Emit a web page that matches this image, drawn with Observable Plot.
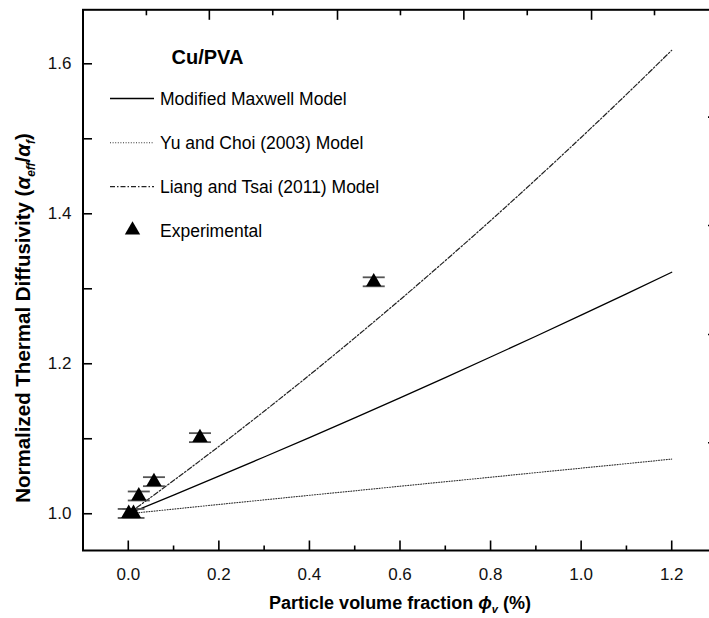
<!DOCTYPE html>
<html>
<head>
<meta charset="utf-8">
<script src="https://cdn.jsdelivr.net/npm/d3@7"></script>
<script src="https://cdn.jsdelivr.net/npm/@observablehq/plot@0.6"></script>
<style>
html, body { margin: 0; padding: 0; background: #fff; }
svg { display: block; }
</style>
</head>
<body>
<div id="chart"></div>
<script>
// ---- Data ----
const xCurve    = [0, 0.1, 0.2, 0.3, 0.4, 0.5, 0.6, 0.7, 0.8, 0.9, 1.0, 1.1, 1.2];
const maxwell   = [1.000, 1.0249, 1.0501, 1.0757, 1.1016, 1.1279, 1.1546, 1.1816, 1.2090, 1.2367, 1.2648, 1.2933, 1.3220];
const yuChoi    = [1.000, 1.0062, 1.0124, 1.0185, 1.0246, 1.0306, 1.0367, 1.0427, 1.0487, 1.0548, 1.0608, 1.0668, 1.0729];
const liangTsai = [1.000, 1.0443, 1.0898, 1.1367, 1.1849, 1.2345, 1.2853, 1.3375, 1.3909, 1.4457, 1.5018, 1.5592, 1.6180];

const expX   = [0.001, 0.0115, 0.0232, 0.0567, 0.1583, 0.542];
const expY   = [1.0004, 1.0004, 1.0237, 1.0428, 1.1015, 1.3093];
const expErr = [0.006, 0.006, 0.006, 0.006, 0.006, 0.006];

const xMajorTicks   = [0.0, 0.2, 0.4, 0.6, 0.8, 1.0, 1.2];
const xMinorTicks   = [-0.1, 0.1, 0.3, 0.5, 0.7, 0.9, 1.1, 1.3];
const yMajorTicks   = [1.0, 1.2, 1.4, 1.6];
const yMinorTicks   = [1.1, 1.3, 1.5];
const topMajorTicks = [0.179, 0.462, 0.741, 1.023];
const topMinorTicks = [0.040, 0.319, 0.601, 0.881, 1.162];
const rightTicks    = [1.0947, 1.2391, 1.3844, 1.5289];

const seriesNames = ["Modified Maxwell Model", "Yu and Choi (2003) Model", "Liang and Tsai (2011) Model", "Experimental"];

// ---- Tables ----
const curveTable = (ys) => xCurve.map((x, i) => ({x, y: ys[i]}));
const expTable = expX.map((x, i) => ({x, y: expY[i], err: expErr[i]}));

// ---- Custom symbols for inward ticks / error caps ----
const tickUp    = L => ({draw(c) { c.moveTo(0, 0); c.lineTo(0, -L); }});
const tickDown  = L => ({draw(c) { c.moveTo(0, 0); c.lineTo(0, L); }});
const tickRight = L => ({draw(c) { c.moveTo(0, 0); c.lineTo(L, 0); }});
const tickLeft  = L => ({draw(c) { c.moveTo(0, 0); c.lineTo(-L, 0); }});
const capSym    = W => ({draw(c) { c.moveTo(-W, 0); c.lineTo(W, 0); }});

const FONT = "'Liberation Sans', Arial, 'DejaVu Sans', sans-serif";
const DASH_YU = "1,1.6";
const DASH_LT = "5,2,1.5,2";
const YU_COLOR = "#333";

const tickStyle = {stroke: "black", strokeWidth: 1.6, fill: "none"};

const plot = Plot.plot({
  width: 709,
  height: 618,
  marginLeft: 82.5,
  marginRight: -7.5,
  marginTop: 9.3,
  marginBottom: 68,
  x: {domain: [-0.1, 1.3], range: [82.5, 716.5], axis: null},
  y: {domain: [0.951, 1.672], range: [550, 9.3], axis: null},
  style: {fontFamily: FONT, background: "white", color: "black"},
  marks: [
    // model curves
    Plot.line(curveTable(yuChoi), {x: "x", y: "y", stroke: YU_COLOR, strokeWidth: 1.1, strokeDasharray: DASH_YU, curve: "monotone-x"}),
    Plot.line(curveTable(liangTsai), {x: "x", y: "y", stroke: "#222", strokeWidth: 1.2, strokeDasharray: DASH_LT, curve: "monotone-x"}),
    Plot.line(curveTable(maxwell), {x: "x", y: "y", stroke: "black", strokeWidth: 1.3, curve: "monotone-x"}),
    // error bars
    Plot.ruleX(expTable, {x: "x", y1: d => d.y - d.err, y2: d => d.y + d.err, stroke: "#333", strokeWidth: 1.3}),
    Plot.dot(expTable, {x: "x", y: d => d.y + d.err, symbol: capSym(11), stroke: "#555", strokeWidth: 1.8, fill: "none"}),
    Plot.dot(expTable, {x: "x", y: d => d.y - d.err, symbol: capSym(11), stroke: "#555", strokeWidth: 1.8, fill: "none"}),
    // experimental triangles
    Plot.dot(expTable, {x: "x", y: "y", symbol: "triangle", r: 5.7, fill: "black", stroke: "none"}),
    // frame
    Plot.frame({stroke: "black", strokeWidth: 2}),
    // bottom ticks (inward)
    Plot.dot(xMajorTicks, {x: d => d, frameAnchor: "bottom", symbol: tickUp(10), ...tickStyle}),
    Plot.dot(xMinorTicks, {x: d => d, frameAnchor: "bottom", symbol: tickUp(5), ...tickStyle}),
    // top ticks (inward)
    Plot.dot(topMajorTicks, {x: d => d, frameAnchor: "top", symbol: tickDown(10), ...tickStyle}),
    Plot.dot(topMinorTicks, {x: d => d, frameAnchor: "top", symbol: tickDown(5.5), ...tickStyle}),
    // left ticks (inward)
    Plot.dot(yMajorTicks, {y: d => d, frameAnchor: "left", symbol: tickRight(9), ...tickStyle}),
    Plot.dot(yMinorTicks, {y: d => d, frameAnchor: "left", symbol: tickRight(9), ...tickStyle}),
    // right ticks (inward)
    Plot.dot(rightTicks, {y: d => d, frameAnchor: "right", symbol: tickLeft(9), ...tickStyle}),
    // tick labels
    Plot.text(xMajorTicks, {x: d => d, text: d => d.toFixed(1), frameAnchor: "bottom", lineAnchor: "bottom", dy: 29, fontSize: 17, fill: "#111"}),
    Plot.text(yMajorTicks, {y: d => d, text: d => d.toFixed(1), frameAnchor: "left", textAnchor: "end", dx: -11.5, fontSize: 17, fill: "#111"})
  ]
});

document.getElementById("chart").appendChild(plot);

// ---- Titles & legend (layout, drawn onto the Plot SVG) ----
const svg = d3.select(plot);

// x-axis title
const xt = svg.append("text")
  .attr("x", 400).attr("y", 609)
  .attr("text-anchor", "middle")
  .attr("font-family", FONT).attr("font-size", 18).attr("font-weight", "bold").attr("fill", "black");
xt.append("tspan").text("Particle volume fraction ");
xt.append("tspan").attr("font-style", "italic").text("\u03D5");
xt.append("tspan").attr("font-style", "italic").attr("font-size", 11).attr("dy", 4).text("v");
xt.append("tspan").attr("dy", -4).text(" (%)");

// y-axis title
const yt = svg.append("text")
  .attr("transform", "translate(30,318) rotate(-90)")
  .attr("text-anchor", "middle")
  .attr("font-family", FONT).attr("font-size", 20.5).attr("font-weight", "bold").attr("fill", "black");
yt.append("tspan").text("Normalized Thermal Diffusivity (");
yt.append("tspan").attr("font-style", "italic").text("\u03B1");
yt.append("tspan").attr("font-style", "italic").attr("font-size", 12).attr("dy", 5).text("eff");
yt.append("tspan").attr("dy", -5).text("/");
yt.append("tspan").attr("font-style", "italic").text("\u03B1");
yt.append("tspan").attr("font-style", "italic").attr("font-size", 12).attr("dy", 5).text("f");
yt.append("tspan").attr("dy", -5).text(")");

// legend
const lg = svg.append("g").attr("font-family", FONT).attr("fill", "black").attr("text-anchor", "start");
lg.append("text").attr("x", 171.5).attr("y", 64).attr("text-anchor", "start")
  .attr("font-size", 20).attr("font-weight", "bold").text("Cu/PVA");

const legendRows = [
  {name: seriesNames[0], ly: 98.5, ty: 105, stroke: "black", dash: null, w: 1.3},
  {name: seriesNames[1], ly: 142.7, ty: 149, stroke: YU_COLOR, dash: DASH_YU, w: 1.1},
  {name: seriesNames[2], ly: 186.7, ty: 193, stroke: "#222", dash: DASH_LT, w: 1.2}
];
legendRows.forEach(r => {
  const ln = lg.append("line").attr("x1", 110).attr("x2", 154).attr("y1", r.ly).attr("y2", r.ly)
    .attr("stroke", r.stroke).attr("stroke-width", r.w);
  if (r.dash) ln.attr("stroke-dasharray", r.dash);
  lg.append("text").attr("x", 160).attr("y", r.ty).attr("text-anchor", "start")
    .attr("font-size", 17.5).text(r.name);
});
lg.append("path")
  .attr("transform", "translate(132.5,230)")
  .attr("d", d3.symbol(d3.symbolTriangle, Math.PI * 5.7 * 5.7)())
  .attr("fill", "black");
lg.append("text").attr("x", 160).attr("y", 237).attr("text-anchor", "start")
  .attr("font-size", 17.5).text(seriesNames[3]);
</script>
</body>
</html>
